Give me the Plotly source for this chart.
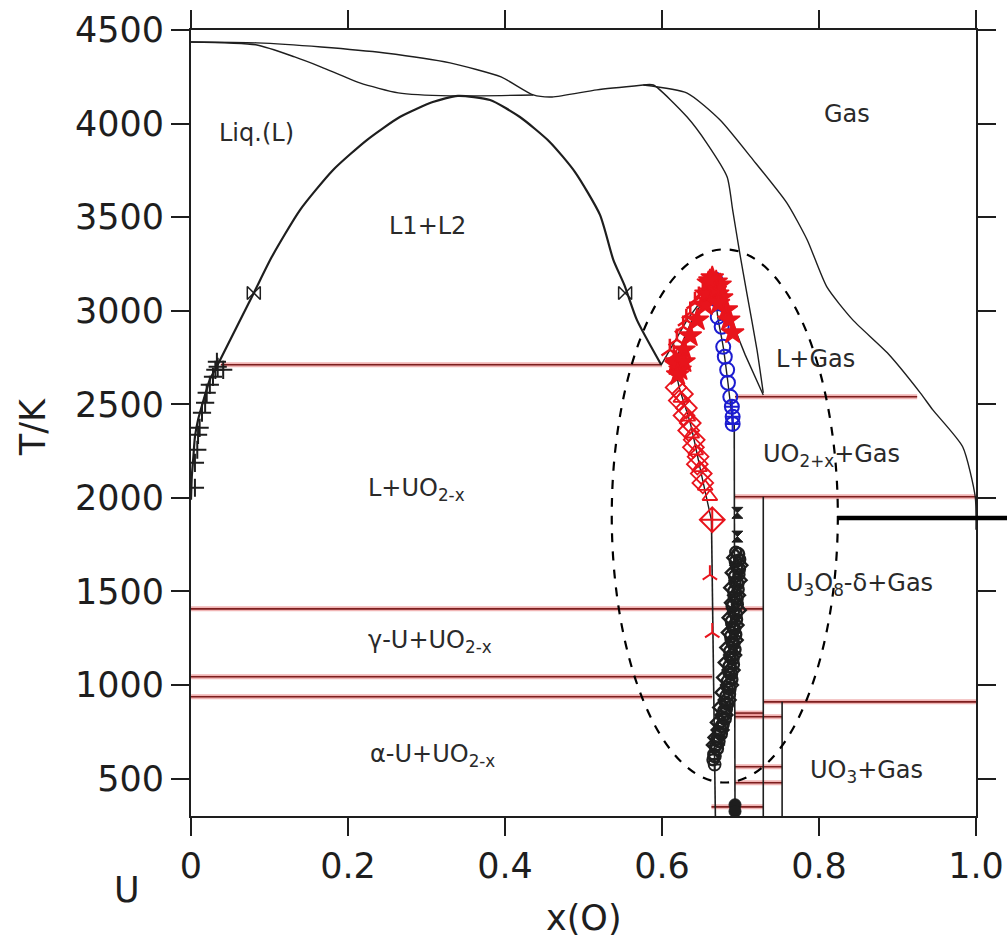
import plotly.graph_objects as go

# ---------------- data (x = mole fraction O, T in K) ----------------
# miscibility dome + U-rich liquidus
dome_x = [0.000, 0.001, 0.003, 0.005, 0.009, 0.015, 0.024, 0.034, 0.080, 0.103, 0.139, 0.181, 0.224, 0.266, 0.308, 0.340,
          0.381, 0.419, 0.457, 0.489, 0.521, 0.538, 0.552, 0.568, 0.599]
dome_T = [1990, 2112, 2219, 2326, 2417, 2508, 2631, 2711, 3095, 3288, 3539, 3752, 3912, 4035, 4115, 4148,
          4126, 4035, 3902, 3742, 3512, 3272, 3138, 2951, 2711]
# gas / liquid boundaries at the top
gasU_x = [0.000, 0.084, 0.166, 0.247, 0.330, 0.395, 0.436, 0.460, 0.517, 0.576]
gasU_T = [4436, 4431, 4409, 4377, 4324, 4249, 4153, 4142, 4180, 4206]
gasL_x = [0.000, 0.084, 0.132, 0.166, 0.215, 0.264, 0.330, 0.436]
gasL_T = [4436, 4420, 4356, 4302, 4217, 4164, 4148, 4153]
gasI_x = [0.576, 0.589, 0.632, 0.657, 0.683, 0.690, 0.699, 0.708, 0.721, 0.729]
gasI_T = [4206, 4206, 4035, 3896, 3715, 3539, 3309, 3095, 2791, 2561]
gasO_x = [0.576, 0.632, 0.674, 0.716, 0.759, 0.785, 0.810, 0.843, 0.887, 0.929, 0.945, 0.983, 0.999, 1.000]
gasO_T = [4206, 4163, 4019, 3806, 3576, 3378, 3127, 2951, 2775, 2561, 2470, 2273, 2006, 1830]
# UO2 liquidus / solidus
liqL_x = [0.599, 0.632, 0.667]
liqL_T = [2711, 2951, 3149]
solL_x = [0.663, 0.650, 0.636, 0.622, 0.617, 0.628, 0.645, 0.667]
solL_T = [1880, 2130, 2400, 2590, 2711, 2850, 3000, 3149]
liqR_x = [0.667, 0.687, 0.706, 0.729]
liqR_T = [3149, 2962, 2764, 2550]
solR_x = [0.667, 0.671, 0.678, 0.684, 0.690]
solR_T = [3149, 2967, 2807, 2615, 2400]
# vertical phase boundaries
vert_x0 = [0.663, 0.692, 0.729, 0.753]
vert_x1 = [0.668, 0.693, 0.729, 0.753]
vert_T0 = [1880, 2400, 2006, 910]
vert_T1 = [300, 300, 300, 300]
# red isotherms
rl_T = [2711, 2540, 2006, 1407, 1044, 937, 910, 850, 830, 563, 478, 349]
rl_x0 = [0.038, 0.693, 0.693, 0.000, 0.000, 0.000, 0.729, 0.693, 0.693, 0.693, 0.693, 0.663]
rl_x1 = [0.600, 0.925, 1.000, 0.729, 0.664, 0.664, 1.000, 0.729, 0.753, 0.753, 0.753, 0.729]

# experimental points
plus_x = [0.005, 0.005, 0.008, 0.009, 0.011, 0.014, 0.018, 0.020, 0.024, 0.028, 0.031, 0.034, 0.041, 0.033]
plus_T = [2054, 2187, 2257, 2337, 2374, 2455, 2508, 2561, 2604, 2647, 2684, 2700, 2684, 2727]
bow_x = [0.080, 0.553]
bow_T = [3095, 3095]
blue_x = [0.668, 0.670, 0.671, 0.676, 0.678, 0.680, 0.683, 0.684, 0.687]
blue_T = [3165, 3058, 2967, 2914, 2807, 2754, 2684, 2615, 2540]
bluec_x = [0.689, 0.690, 0.690]
bluec_T = [2487, 2433, 2395]
rY_x = [0.610, 0.619, 0.627, 0.636, 0.642, 0.652, 0.615, 0.631, 0.647]
rY_T = [2791, 2845, 2914, 2989, 3042, 3095, 2760, 2950, 3070]
rStar_x = [0.618, 0.628, 0.636, 0.645, 0.655, 0.659, 0.664, 0.669, 0.674, 0.662, 0.671, 0.676, 0.666, 0.656,
           0.682, 0.685, 0.690, 0.618, 0.623, 0.628, 0.620, 0.668, 0.672, 0.661]
rStar_T = [2727, 2791, 2866, 2951, 3031, 3149, 3176, 3154, 3138, 3101, 3090, 3069, 3122, 3090,
           3005, 2951, 2882, 2711, 2684, 2727, 2658, 3110, 3040, 3160]
rDia_x = [0.618, 0.626, 0.622, 0.631, 0.628, 0.636, 0.634, 0.641, 0.640, 0.646, 0.645, 0.650, 0.652]
rDia_T = [2590, 2555, 2520, 2480, 2440, 2400, 2360, 2310, 2270, 2220, 2180, 2130, 2080]
rTri_x = [0.624, 0.633, 0.638, 0.643, 0.648, 0.655, 0.661]
rTri_T = [2530, 2430, 2340, 2250, 2160, 2060, 2006]
rDiaX_x = [0.664]
rDiaX_T = [1883]
rDown_x = [0.661, 0.664]
rDown_T = [1589, 1280]
hg_x = [0.696, 0.696]
hg_T = [1920, 1793]
bkC_x = [0.697, 0.694, 0.698, 0.693, 0.696, 0.692, 0.695, 0.690, 0.694, 0.689, 0.692, 0.688, 0.691, 0.687,
         0.690, 0.686, 0.688, 0.684, 0.686, 0.682, 0.683, 0.679, 0.680, 0.676, 0.675, 0.672, 0.670, 0.667]
bkC_T = [1700, 1660, 1620, 1580, 1540, 1500, 1460, 1420, 1380, 1340, 1300, 1260, 1220, 1180,
         1140, 1100, 1060, 1020, 980, 940, 900, 860, 820, 780, 740, 700, 660, 620]
bkD_x = [0.694, 0.698, 0.692, 0.697, 0.690, 0.695, 0.691, 0.696, 0.688, 0.693, 0.687, 0.692, 0.685,
         0.690, 0.683, 0.688, 0.681, 0.686, 0.679, 0.683, 0.676, 0.679, 0.673, 0.674, 0.670, 0.668]
bkD_T = [1680, 1640, 1600, 1560, 1520, 1480, 1440, 1400, 1360, 1320, 1280, 1240, 1200,
         1160, 1120, 1080, 1040, 1000, 960, 920, 880, 840, 800, 760, 720, 680]
bkE_x = [0.694, 0.699, 0.695, 0.698, 0.693, 0.697, 0.692, 0.696, 0.691, 0.695, 0.690, 0.694, 0.689, 0.693,
         0.687, 0.691, 0.685, 0.689, 0.683, 0.686, 0.680, 0.682, 0.677, 0.678, 0.673, 0.670, 0.668, 0.666, 0.665]
bkE_T = [1710, 1670, 1630, 1590, 1550, 1510, 1470, 1430, 1390, 1350, 1310, 1270, 1230, 1190,
         1150, 1110, 1070, 1030, 990, 950, 910, 870, 830, 790, 750, 710, 670, 630, 600]
bkPhi_x = [0.667]
bkPhi_T = [575]
bkBot_x = [0.693, 0.693]
bkBot_T = [360, 325]

# dashed ellipse and thick bar
ell_x = [0.536, 0.824]
ell_T = [479, 3328]
bar_x = [0.823, 1.05]
bar_T = 1893

# region labels
lab_text = ["Liq.(L)", "L1+L2", "Gas", "L+Gas", "UO<sub>2+x</sub>+Gas", "L+UO<sub>2-x</sub>",
            "U<sub>3</sub>O<sub>8</sub>-δ+Gas", "γ-U+UO<sub>2-x</sub>", "α-U+UO<sub>2-x</sub>", "UO<sub>3</sub>+Gas"]
lab_x = [0.083, 0.301, 0.836, 0.796, 0.816, 0.287, 0.852, 0.304, 0.307, 0.860]
lab_T = [3950, 3453, 4051, 2743, 2225, 2045, 1535, 1232, 623, 538]

xticks = [0, 0.2, 0.4, 0.6, 0.8, 1.0]
xticktext = ["0", "0.2", "0.4", "0.6", "0.8", "1.0"]
yticks = [500, 1000, 1500, 2000, 2500, 3000, 3500, 4000, 4500]
T_min, T_max = 300, 4500

FONT = "DejaVu Sans"
INK = "#1e1e1e"
RED = "#e8141c"
BLUE = "#1c1cd0"

fig = go.Figure()

def line(x, y, w=1.5, color=INK, spline=True):
    fig.add_trace(go.Scatter(x=x, y=y, mode="lines", showlegend=False, hoverinfo="skip",
                             line=dict(color=color, width=w, shape="spline" if spline else "linear",
                                       smoothing=0.6)))

# red isotherms (halo + core)
rx, ry = [], []
for a, b, t in zip(rl_x0, rl_x1, rl_T):
    rx += [a, b, None]
    ry += [t, t, None]
fig.add_trace(go.Scatter(x=rx, y=ry, mode="lines", showlegend=False, hoverinfo="skip",
                         line=dict(color="rgba(225,90,90,0.45)", width=5)))
fig.add_trace(go.Scatter(x=rx, y=ry, mode="lines", showlegend=False, hoverinfo="skip",
                         line=dict(color="#7d1e1e", width=1.6)))

line(dome_x, dome_T, 2.2)
line(gasU_x, gasU_T, 1.4)
line(gasL_x, gasL_T, 1.4)
line(gasI_x, gasI_T, 1.4)
line(gasO_x, gasO_T, 1.4)
line(liqL_x, liqL_T, 1.4, spline=False)
line(solL_x, solL_T, 1.4)
line(liqR_x, liqR_T, 1.4, spline=False)
line(solR_x, solR_T, 1.4)
vx, vy = [], []
for a, b, t0, t1 in zip(vert_x0, vert_x1, vert_T0, vert_T1):
    vx += [a, b, None]
    vy += [t0, t1, None]
line(vx, vy, 1.6, spline=False)

def pts(x, y, symbol, color, size, lw=1.5, fill=None):
    fig.add_trace(go.Scatter(x=x, y=y, mode="markers", showlegend=False, hoverinfo="skip",
                             marker=dict(symbol=symbol, size=size,
                                         color=fill if fill else color,
                                         line=dict(color=color, width=lw))))

pts(plus_x, plus_T, "cross-thin-open", INK, 13, 2)
pts(bow_x, bow_T, "bowtie-open", INK, 13, 1.5)
pts(bkC_x, bkC_T, "circle-open", INK, 12, 2.4)
pts(bkD_x, bkD_T, "diamond-open", INK, 13, 2.4)
pts(bkE_x, bkE_T, "circle-open", INK, 11, 2.4)
pts(hg_x, hg_T, "hourglass", INK, 11, 1)
pts(bkPhi_x, bkPhi_T, "circle-cross-open", INK, 12, 1.8)
pts(bkBot_x, bkBot_T, "circle", INK, 12, 1)
pts(blue_x, blue_T, "circle-open", BLUE, 14, 2)
pts(bluec_x, bluec_T, "circle-cross-open", BLUE, 14, 2)
pts(rY_x, rY_T, "y-up-open", RED, 14, 2.5)
pts(rStar_x, rStar_T, "star", RED, 17, 1.5)
pts(rDia_x, rDia_T, "diamond-open", RED, 16, 1.8)
pts(rTri_x, rTri_T, "triangle-up-open", RED, 13, 1.8)
pts(rDiaX_x, rDiaX_T, "diamond-cross-open", RED, 19, 2)
pts(rDown_x, rDown_T, "y-up-open", RED, 12, 2)

# dashed ellipse
fig.add_shape(type="circle", xref="x", yref="y", x0=ell_x[0], x1=ell_x[1], y0=ell_T[0], y1=ell_T[1],
              line=dict(color="black", width=2.2, dash="dash"), layer="above")
# thick bar (extends past the frame)
bar_py = (bar_T - T_min) / (T_max - T_min)
fig.add_shape(type="line", xref="paper", yref="paper", x0=bar_x[0], x1=bar_x[1], y0=bar_py, y1=bar_py,
              line=dict(color="black", width=4.5), layer="above")

for t, x, y in zip(lab_text, lab_x, lab_T):
    fig.add_annotation(x=x, y=y, xref="x", yref="y", text=t, showarrow=False,
                       font=dict(family=FONT, size=24, color="#2a2a2a"))

fig.add_annotation(x=0.5, y=-0.13, xref="paper", yref="paper", text="x(O)", showarrow=False,
                   font=dict(family=FONT, size=35, color=INK), xanchor="center", yanchor="middle")
fig.add_annotation(x=-0.0815, y=-0.094, xref="paper", yref="paper", text="U", showarrow=False,
                   font=dict(family=FONT, size=35, color=INK), xanchor="center", yanchor="middle")
fig.add_annotation(x=-0.201, y=0.495, xref="paper", yref="paper", text="T/K", showarrow=False, textangle=-90,
                   font=dict(family=FONT, size=35, color=INK), xanchor="center", yanchor="middle")

axis_common = dict(showgrid=False, zeroline=False, showline=True, linecolor=INK, linewidth=2,
                   ticks="outside", ticklen=18, tickwidth=2, tickcolor=INK, mirror="ticks",
                   automargin=False, tickfont=dict(family=FONT, size=35, color=INK))
fig.update_xaxes(range=[0, 1], tickvals=xticks, ticktext=xticktext, **axis_common)
fig.update_yaxes(range=[T_min, T_max], tickvals=yticks, **axis_common)

fig.update_layout(width=1007, height=943, margin=dict(l=191, r=31, t=30, b=127, autoexpand=False),
                  plot_bgcolor="white", paper_bgcolor="white", showlegend=False)

fig.write_html("out.html")
